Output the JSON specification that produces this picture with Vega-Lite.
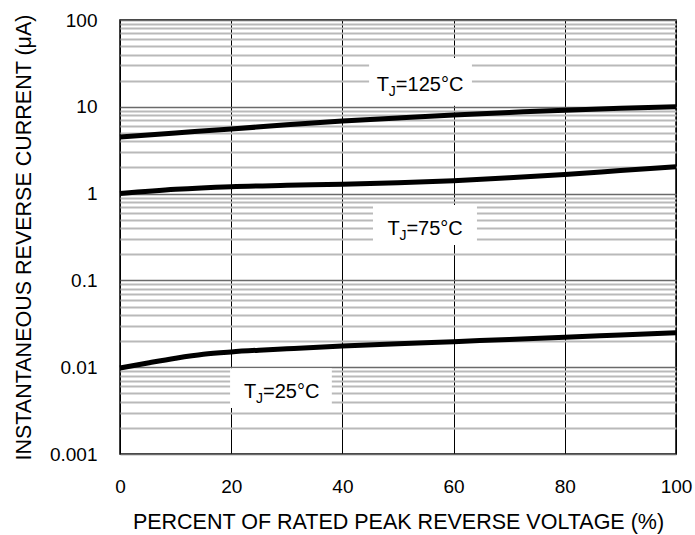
{
  "$schema": "https://vega.github.io/schema/vega-lite/v6.json",
  "width": 556,
  "height": 434,
  "autosize": "none",
  "padding": {"left": 120, "top": 20, "right": 19, "bottom": 81},
  "background": "white",
  "datasets": {
    "curves": [
      {"tj": "125", "x": 0, "y": 4.5}, {"tj": "125", "x": 10, "y": 5.0}, {"tj": "125", "x": 20, "y": 5.55},
      {"tj": "125", "x": 30, "y": 6.2}, {"tj": "125", "x": 40, "y": 6.85}, {"tj": "125", "x": 50, "y": 7.45},
      {"tj": "125", "x": 60, "y": 8.05}, {"tj": "125", "x": 70, "y": 8.6}, {"tj": "125", "x": 80, "y": 9.15},
      {"tj": "125", "x": 90, "y": 9.6}, {"tj": "125", "x": 100, "y": 10.0},
      {"tj": "75", "x": 0, "y": 1.0}, {"tj": "75", "x": 10, "y": 1.12}, {"tj": "75", "x": 20, "y": 1.2},
      {"tj": "75", "x": 30, "y": 1.245}, {"tj": "75", "x": 40, "y": 1.285}, {"tj": "75", "x": 50, "y": 1.335},
      {"tj": "75", "x": 60, "y": 1.41}, {"tj": "75", "x": 70, "y": 1.52}, {"tj": "75", "x": 80, "y": 1.66},
      {"tj": "75", "x": 90, "y": 1.84}, {"tj": "75", "x": 100, "y": 2.04},
      {"tj": "25", "x": 0, "y": 0.0098}, {"tj": "25", "x": 5, "y": 0.0112}, {"tj": "25", "x": 10, "y": 0.0127},
      {"tj": "25", "x": 15, "y": 0.0141}, {"tj": "25", "x": 20, "y": 0.015}, {"tj": "25", "x": 25, "y": 0.0157},
      {"tj": "25", "x": 30, "y": 0.0163}, {"tj": "25", "x": 40, "y": 0.0175}, {"tj": "25", "x": 50, "y": 0.0186},
      {"tj": "25", "x": 60, "y": 0.0197}, {"tj": "25", "x": 70, "y": 0.0209}, {"tj": "25", "x": 80, "y": 0.0221},
      {"tj": "25", "x": 90, "y": 0.0235}, {"tj": "25", "x": 100, "y": 0.025}
    ],
    "boxes": [
      {"x": 44.8, "x2": 63.3, "y": 36.5, "y2": 10.3},
      {"x": 45.5, "x2": 64.2, "y": 0.74, "y2": 0.256},
      {"x": 19.8, "x2": 38.1, "y": 0.0097, "y2": 0.00339}
    ],
    "labels": [
      {"x": 46.2, "y": 15.3, "rest": "=125°C"},
      {"x": 48.1, "y": 0.333, "rest": "=75°C"},
      {"x": 22.3, "y": 0.00439, "rest": "=25°C"}
    ]
  },
  "encoding": {
    "x": {
      "field": "x", "type": "quantitative",
      "scale": {"domain": [0, 100], "nice": false},
      "axis": {
        "values": [0, 20, 40, 60, 80, 100],
        "grid": true, "gridColor": "black", "gridWidth": 1,
        "ticks": false, "domain": false, "labelFlush": false,
        "labelFontSize": 19, "labelPadding": 23, "labelColor": "black",
        "title": "PERCENT OF RATED PEAK REVERSE VOLTAGE (%)",
        "titleFontSize": 21.5, "titleFontWeight": "normal", "titleColor": "black", "titlePadding": 15
      }
    },
    "y": {
      "field": "y", "type": "quantitative",
      "scale": {"type": "log", "domain": [0.001, 100], "nice": false},
      "axis": {
        "values": [0.001, 0.002, 0.003, 0.004, 0.005, 0.006, 0.007, 0.008, 0.009,
                   0.01, 0.02, 0.03, 0.04, 0.05, 0.06, 0.07, 0.08, 0.09,
                   0.1, 0.2, 0.3, 0.4, 0.5, 0.6, 0.7, 0.8, 0.9,
                   1, 2, 3, 4, 5, 6, 7, 8, 9,
                   10, 20, 30, 40, 50, 60, 70, 80, 90, 100],
        "labelExpr": "indexof([0.001, 0.01, 0.1, 1, 10, 100], datum.value) >= 0 ? format(datum.value, '~g') : ''",
        "grid": true,
        "gridColor": {"condition": {"test": "indexof([0.001, 0.01, 0.1, 1, 10, 100], datum.value) >= 0", "value": "#6a6a6a"}, "value": "#b9b9b9"},
        "gridWidth": {"condition": {"test": "indexof([0.001, 0.01, 0.1, 1, 10, 100], datum.value) >= 0", "value": 1.5}, "value": 2},
        "ticks": false, "domain": false, "labelFlush": false,
        "labelFontSize": 19, "labelPadding": 23, "labelColor": "black",
        "title": "INSTANTANEOUS REVERSE CURRENT (μA)",
        "titleFontSize": 21.5, "titleFontWeight": "normal", "titleColor": "black", "titlePadding": 14
      }
    }
  },
  "layer": [
    {
      "data": {"name": "boxes"},
      "mark": {"type": "rect", "fill": "white", "stroke": null},
      "encoding": {"x2": {"field": "x2"}, "y2": {"field": "y2"}}
    },
    {
      "data": {"name": "curves"},
      "mark": {"type": "line", "color": "black", "strokeWidth": 5, "interpolate": "monotone"},
      "encoding": {"detail": {"field": "tj"}}
    },
    {
      "data": {"name": "labels"},
      "mark": {"type": "text", "text": "T", "align": "left", "baseline": "alphabetic", "fontSize": 20, "color": "black"}
    },
    {
      "data": {"name": "labels"},
      "mark": {"type": "text", "text": "J", "align": "left", "baseline": "alphabetic", "fontSize": 14, "dx": 12, "dy": 5, "color": "black"}
    },
    {
      "data": {"name": "labels"},
      "mark": {"type": "text", "align": "left", "baseline": "alphabetic", "fontSize": 20, "dx": 19, "color": "black"},
      "encoding": {"text": {"field": "rest"}}
    }
  ],
  "config": {
    "font": "Liberation Sans",
    "view": {"stroke": "black", "strokeWidth": 1.5}
  }
}
